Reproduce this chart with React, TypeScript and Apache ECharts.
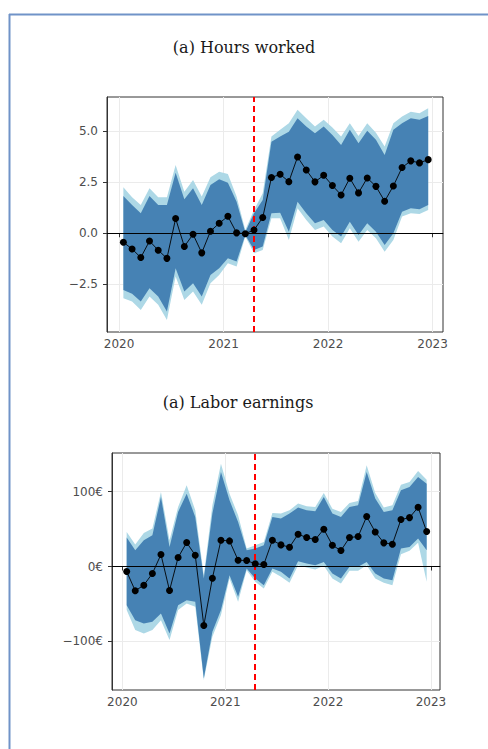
import React, { useEffect, useRef } from "react";
import * as echarts from "echarts";

const months = [
  "2020-01", "2020-02", "2020-03", "2020-04", "2020-05", "2020-06",
  "2020-07", "2020-08", "2020-09", "2020-10", "2020-11", "2020-12",
  "2021-01", "2021-02", "2021-03", "2021-04", "2021-05", "2021-06",
  "2021-07", "2021-08", "2021-09", "2021-10", "2021-11", "2021-12",
  "2022-01", "2022-02", "2022-03", "2022-04", "2022-05", "2022-06",
  "2022-07", "2022-08", "2022-09", "2022-10", "2022-11", "2022-12",
];
const treatmentMonth = "2021-04";
const yearTicks = [2020, 2021, 2022, 2023];

const hoursTitle = "(a) Hours worked";
const hoursTicks = [-2.5, 0, 2.5, 5];
const hoursEst = [-0.44, -0.77, -1.19, -0.38, -0.83, -1.23, 0.72, -0.65, -0.05, -0.96, 0.10, 0.49, 0.83, 0.02, -0.02, 0.16, 0.77, 2.73, 2.89, 2.53, 3.74, 3.10, 2.52, 2.84, 2.34, 1.88, 2.70, 1.98, 2.71, 2.30, 1.57, 2.32, 3.22, 3.55, 3.45, 3.61];
const hoursInnerHigh = [1.83, 1.39, 0.98, 1.83, 1.39, 1.39, 2.97, 1.67, 2.21, 1.39, 2.37, 2.65, 2.48, 1.55, 0.05, 0.98, 1.63, 4.49, 4.74, 4.98, 5.64, 5.23, 4.90, 5.23, 4.82, 4.33, 5.07, 4.41, 5.03, 4.58, 3.84, 5.07, 5.39, 5.64, 5.56, 5.75];
const hoursOuterHigh = [2.25, 1.76, 1.39, 2.21, 1.76, 1.76, 3.35, 2.04, 2.61, 1.80, 2.75, 3.02, 2.91, 1.80, 0.16, 1.14, 1.96, 4.74, 5.07, 5.39, 6.05, 5.64, 5.23, 5.56, 5.18, 4.74, 5.39, 4.77, 5.39, 4.93, 4.25, 5.39, 5.72, 5.96, 5.88, 6.13];
const hoursInnerLow = [-2.78, -2.97, -3.35, -2.70, -3.10, -3.84, -1.72, -2.86, -2.45, -3.10, -2.04, -1.72, -1.23, -1.39, -0.08, -0.82, -0.65, 0.98, 1.01, 0.08, 1.55, 0.98, 0.49, 0.65, 0.16, -0.16, 0.57, -0.08, 0.49, 0.08, -0.57, 0.0, 1.06, 1.23, 1.18, 1.39];
const hoursOuterLow = [-3.19, -3.35, -3.76, -3.10, -3.51, -4.25, -2.12, -3.27, -2.86, -3.51, -2.45, -2.04, -1.47, -1.63, -0.16, -0.98, -0.82, 0.74, 0.74, -0.33, 1.23, 0.65, 0.16, 0.33, -0.16, -0.49, 0.25, -0.41, 0.16, -0.25, -0.90, -0.33, 0.82, 0.98, 0.95, 1.14];

const earnTitle = "(a) Labor earnings";
const earnTicks = [-100, 0, 100];
const earnEst = [-6.7, -32.4, -24.9, -9.3, 16.0, -32.0, 12.0, 32.0, 15.1, -78.7, -15.6, 35.1, 34.2, 8.4, 8.0, 3.6, 2.7, 35.1, 28.9, 25.8, 43.1, 38.7, 36.0, 49.8, 28.4, 21.3, 38.7, 40.0, 66.7, 46.2, 31.6, 29.8, 62.7, 65.3, 79.1, 46.7];
const earnInnerHigh = [38.7, 21.8, 35.1, 41.8, 92.9, 26.2, 72.9, 97.3, 66.2, -16.0, 70.7, 126.2, 88.4, 59.6, 21.8, 24.0, 28.4, 66.2, 64.0, 70.7, 78.7, 75.1, 73.8, 92.9, 70.7, 66.2, 79.6, 81.8, 126.2, 90.7, 72.9, 75.1, 101.8, 106.2, 119.6, 110.7];
const earnOuterHigh = [46.2, 29.3, 44.9, 50.7, 99.6, 35.1, 79.6, 108.4, 75.1, -11.6, 81.8, 137.3, 97.3, 68.4, 24.0, 28.4, 32.9, 71.6, 70.7, 75.1, 84.0, 80.4, 79.6, 98.2, 77.3, 72.9, 84.9, 87.6, 135.1, 98.2, 78.7, 81.8, 109.3, 112.9, 127.6, 116.0];
const earnInnerLow = [-51.6, -71.6, -76.0, -73.8, -62.7, -89.3, -51.6, -44.9, -47.1, -149.3, -87.1, -58.2, -11.6, -40.4, -2.7, -16.0, -24.9, -2.7, -7.1, -16.0, 7.1, 4.0, 1.8, 6.2, -9.3, -16.0, -0.4, -0.4, 6.2, -9.3, -16.0, -18.2, 24.0, 26.2, 37.3, 21.8];
const earnOuterLow = [-58.2, -84.9, -89.3, -84.9, -71.6, -98.2, -58.2, -49.3, -53.8, -151.6, -93.8, -64.9, -16.0, -47.1, -4.9, -20.4, -29.3, -7.1, -13.8, -21.8, 1.8, -1.3, -4.0, 0.9, -16.0, -22.7, -5.8, -5.8, 1.8, -16.0, -21.8, -24.9, 16.4, 20.9, 31.6, -20.4];

const toYear = (m: string) => {
  const [y, mo] = m.split("-").map(Number);
  return y + (mo - 0.5) / 12;
};

const DARK = "#4682b4";
const LIGHT = "#add8e6";
const AXIS_TEXT = "#4d4d4d";
const FONT = "DejaVu Sans";

function bandSeries(idx: number, lows: number[], highs: number[], color: string, z: number) {
  const xs = months.map(toYear);
  return {
    type: "custom",
    xAxisIndex: idx,
    yAxisIndex: idx,
    z,
    silent: true,
    data: [[xs[0], lows[0]]],
    renderItem: (_p: any, api: any) => {
      const pts: number[][] = [];
      for (let i = 0; i < xs.length; i++) pts.push(api.coord([xs[i], highs[i]]));
      for (let i = xs.length - 1; i >= 0; i--) pts.push(api.coord([xs[i], lows[i]]));
      return { type: "polygon", shape: { points: pts }, style: { fill: color } };
    },
  };
}

function lineSeries(idx: number, est: number[]) {
  const xs = months.map(toYear);
  return {
    type: "line",
    xAxisIndex: idx,
    yAxisIndex: idx,
    z: 10,
    data: xs.map((x, i) => [x, est[i]]),
    symbol: "circle",
    symbolSize: 7,
    itemStyle: { color: "#000" },
    lineStyle: { color: "#000", width: 0.9 },
    silent: true,
    markLine: {
      silent: true,
      symbol: ["none", "none"],
      label: { show: false },
      data: [
        { yAxis: 0, lineStyle: { color: "#000", type: "solid", width: 1 } },
        { xAxis: toYear(treatmentMonth), lineStyle: { color: "#ff0000", type: [6, 4], width: 2 } },
      ],
    },
  };
}

function xAxis(idx: number, min: number, max: number) {
  return {
    type: "value",
    gridIndex: idx,
    min,
    max,
    axisLine: { show: true, lineStyle: { color: "#333", width: 1 } },
    axisTick: { show: true, customValues: yearTicks, length: 4, lineStyle: { color: "#333", width: 1 } },
    axisLabel: {
      customValues: yearTicks,
      formatter: (v: number) => String(v),
      color: AXIS_TEXT,
      fontSize: 12,
      fontFamily: FONT,
      margin: 6,
    },
    splitLine: { show: true, lineStyle: { color: "#ebebeb", width: 1 } },
  };
}

function yAxis(idx: number, min: number, max: number, ticks: number[], fmt: (v: number) => string) {
  return {
    type: "value",
    gridIndex: idx,
    min,
    max,
    axisLine: { show: true, lineStyle: { color: "#333", width: 1 } },
    axisTick: { show: true, customValues: ticks, length: 4, lineStyle: { color: "#333", width: 1 } },
    axisLabel: {
      customValues: ticks,
      formatter: fmt,
      color: AXIS_TEXT,
      fontSize: 12,
      fontFamily: FONT,
      margin: 9,
    },
    splitLine: { show: true, lineStyle: { color: "#ebebeb", width: 1 } },
  };
}

const hoursFmt = (v: number) => (v < 0 ? "\u2212" + Math.abs(v).toFixed(1) : v.toFixed(1));
const earnFmt = (v: number) => (v < 0 ? "\u2212" : "") + Math.abs(v) + "€";

export default function App() {
  const ref = useRef<HTMLDivElement>(null);
  useEffect(() => {
    if (!ref.current) return;
    const chart = echarts.init(ref.current, undefined, { renderer: "svg" });
    chart.setOption({
      animation: false,
      backgroundColor: "#fff",
      grid: [
        { left: 107, right: 45, top: 97, height: 235, show: true, borderColor: "#333", borderWidth: 1, backgroundColor: "transparent" },
        { left: 112, right: 48, top: 453, height: 237, show: true, borderColor: "#333", borderWidth: 1, backgroundColor: "transparent" },
      ],
      xAxis: [xAxis(0, 2019.885, 2023.1), xAxis(1, 2019.899, 2023.088)],
      yAxis: [
        yAxis(0, -4.84, 6.68, hoursTicks, hoursFmt),
        yAxis(1, -164.9, 151.6, earnTicks, earnFmt),
      ],
      graphic: [
        { type: "line", shape: { x1: 9, y1: 14.5, x2: 488, y2: 14.5 }, style: { stroke: "#7093c8", lineWidth: 2 } },
        { type: "line", shape: { x1: 9.5, y1: 14, x2: 9.5, y2: 749 }, style: { stroke: "#7093c8", lineWidth: 2 } },
        {
          type: "text", x: 244, y: 47,
          style: { text: hoursTitle, textAlign: "center", textVerticalAlign: "middle", font: "16px 'DejaVu Serif'", fill: "#1a1a1a" },
        },
        {
          type: "text", x: 238, y: 402,
          style: { text: earnTitle, textAlign: "center", textVerticalAlign: "middle", font: "16px 'DejaVu Serif'", fill: "#1a1a1a" },
        },
      ],
      series: [
        bandSeries(0, hoursOuterLow, hoursOuterHigh, LIGHT, 1),
        bandSeries(0, hoursInnerLow, hoursInnerHigh, DARK, 2),
        lineSeries(0, hoursEst),
        bandSeries(1, earnOuterLow, earnOuterHigh, LIGHT, 1),
        bandSeries(1, earnInnerLow, earnInnerHigh, DARK, 2),
        lineSeries(1, earnEst),
      ],
    });
    return () => chart.dispose();
  }, []);
  return <div ref={ref} style={{ position: "fixed", left: 0, top: 0, width: 488, height: 749 }} />;
}
